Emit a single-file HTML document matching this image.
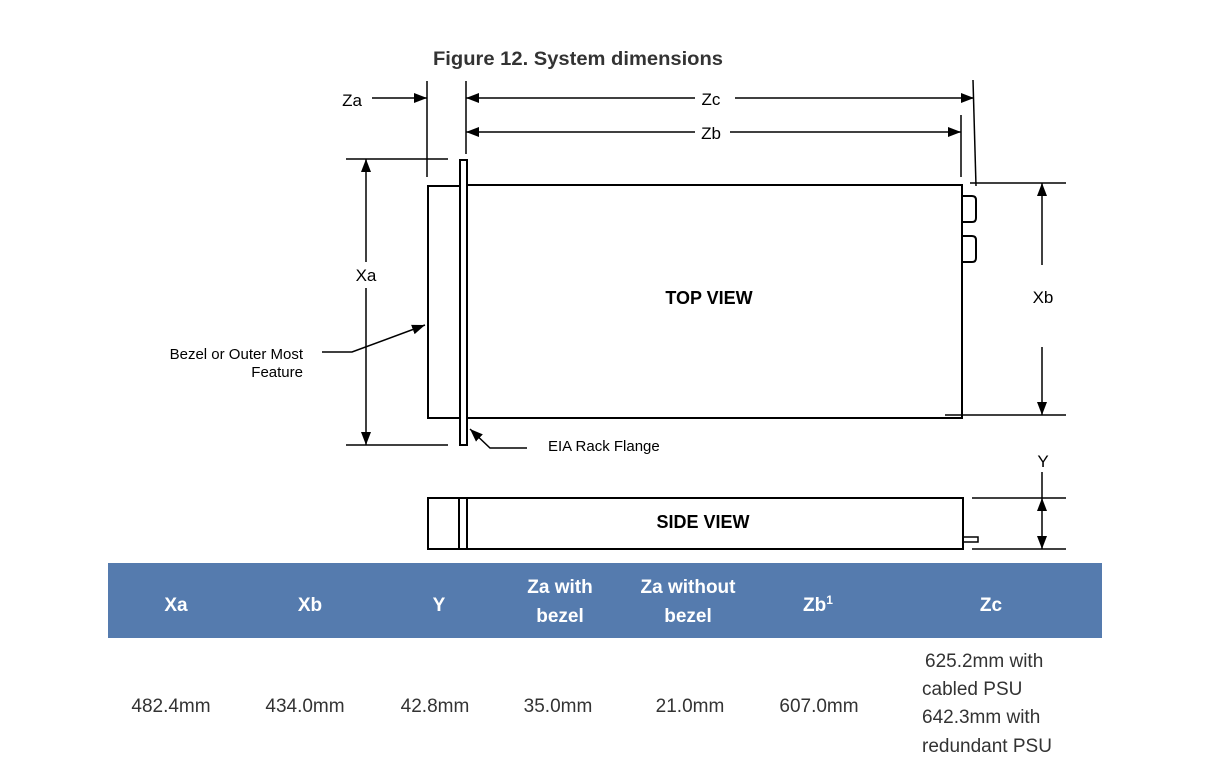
<!DOCTYPE html>
<html><head><meta charset="utf-8"><style>
html,body{margin:0;padding:0;background:#fff;width:1218px;height:759px;overflow:hidden}
svg{display:block}
</style></head><body>
<svg width="1218" height="759" viewBox="0 0 1218 759" xmlns="http://www.w3.org/2000/svg">
<defs>
<marker id="ah" markerWidth="13" markerHeight="10" refX="13" refY="5" orient="auto" markerUnits="userSpaceOnUse">
<path d="M0,0 L13,5 L0,10 z" fill="#000"/></marker>
</defs>
<g font-family="Liberation Sans, sans-serif" fill="#000">
<text x="578" y="65" text-anchor="middle" font-size="19" font-weight="bold" fill="#333" textLength="290" lengthAdjust="spacingAndGlyphs">Figure 12. System dimensions</text>
</g>
<g stroke="#000" stroke-width="1.5" fill="none">
<line x1="372" y1="98" x2="427" y2="98" marker-end="url(#ah)"/>
<line x1="427" y1="81" x2="427" y2="177"/>
<line x1="466" y1="81" x2="466" y2="154"/>
<line x1="695" y1="98" x2="466" y2="98" marker-end="url(#ah)"/>
<line x1="735" y1="98" x2="974" y2="98" marker-end="url(#ah)"/>
<line x1="695" y1="132" x2="466" y2="132" marker-end="url(#ah)"/>
<line x1="730" y1="132" x2="961" y2="132" marker-end="url(#ah)"/>
<line x1="961" y1="115" x2="961" y2="177"/>
<line x1="973" y1="80" x2="976" y2="186"/>
<rect x="428" y="186" width="32" height="232" stroke-width="2"/>
<rect x="460" y="160" width="7" height="285" stroke-width="2"/>
<rect x="467" y="185" width="495" height="233" stroke-width="2"/>
<path d="M962,196 h10 q4,0 4,4 v18 q0,4 -4,4 h-10" stroke-width="2"/>
<path d="M962,236 h10 q4,0 4,4 v18 q0,4 -4,4 h-10" stroke-width="2"/>
<line x1="346" y1="159" x2="448" y2="159"/>
<line x1="346" y1="445" x2="448" y2="445"/>
<line x1="366" y1="262" x2="366" y2="159" marker-end="url(#ah)"/>
<line x1="366" y1="288" x2="366" y2="445" marker-end="url(#ah)"/>
<line x1="970" y1="183" x2="1066" y2="183"/>
<line x1="945" y1="415" x2="1066" y2="415"/>
<line x1="1042" y1="265" x2="1042" y2="183" marker-end="url(#ah)"/>
<line x1="1042" y1="347" x2="1042" y2="415" marker-end="url(#ah)"/>
<polyline points="322,352 352,352 425,325" marker-end="url(#ah)"/>
<polyline points="527,448 490,448 470,429" marker-end="url(#ah)"/>
<rect x="428" y="498" width="535" height="51" stroke-width="2"/>
<line x1="459" y1="498" x2="459" y2="549" stroke-width="2"/>
<line x1="467" y1="498" x2="467" y2="549" stroke-width="2"/>
<rect x="963" y="537" width="15" height="5" stroke-width="1.5"/>
<line x1="972" y1="498" x2="1066" y2="498"/>
<line x1="972" y1="549" x2="1066" y2="549"/>
<line x1="1042" y1="472" x2="1042" y2="498"/>
<line x1="1042" y1="523" x2="1042" y2="498" marker-end="url(#ah)"/>
<line x1="1042" y1="523" x2="1042" y2="549" marker-end="url(#ah)"/>
</g>
<g font-family="Liberation Sans, sans-serif" fill="#000">
<text x="352" y="106" text-anchor="middle" font-size="17">Za</text>
<text x="711" y="105" text-anchor="middle" font-size="17">Zc</text>
<text x="711" y="139" text-anchor="middle" font-size="17">Zb</text>
<text x="366" y="281" text-anchor="middle" font-size="17">Xa</text>
<text x="1043" y="303" text-anchor="middle" font-size="17">Xb</text>
<text x="1043" y="467" text-anchor="middle" font-size="17">Y</text>
<text x="709" y="304" text-anchor="middle" font-size="18" font-weight="bold">TOP VIEW</text>
<text x="703" y="528" text-anchor="middle" font-size="18" font-weight="bold">SIDE VIEW</text>
<text x="303" y="359" text-anchor="end" font-size="15">Bezel or Outer Most</text>
<text x="303" y="377" text-anchor="end" font-size="15">Feature</text>
<text x="548" y="451" font-size="15">EIA Rack Flange</text>
</g>
<rect x="108" y="563" width="994" height="75" fill="#557bae"/>
<g font-family="Liberation Sans, sans-serif" font-size="19" font-weight="bold" fill="#fff" text-anchor="middle">
<text x="176" y="611">Xa</text>
<text x="310" y="611">Xb</text>
<text x="439" y="611">Y</text>
<text x="560" y="593">Za with</text>
<text x="560" y="622">bezel</text>
<text x="688" y="593">Za without</text>
<text x="688" y="622">bezel</text>
<text x="818" y="611">Zb<tspan font-size="12" dy="-7">1</tspan></text>
<text x="991" y="611">Zc</text>
</g>
<g font-family="Liberation Sans, sans-serif" font-size="19" fill="#333" text-anchor="middle">
<text x="171" y="712">482.4mm</text>
<text x="305" y="712">434.0mm</text>
<text x="435" y="712">42.8mm</text>
<text x="558" y="712">35.0mm</text>
<text x="690" y="712">21.0mm</text>
<text x="819" y="712">607.0mm</text>
</g>
<g font-family="Liberation Sans, sans-serif" font-size="19" fill="#333">
<text x="925" y="667">625.2mm with</text>
<text x="922" y="695">cabled PSU</text>
<text x="922" y="723">642.3mm with</text>
<text x="922" y="752">redundant PSU</text>
</g>
</svg>
</body></html>
